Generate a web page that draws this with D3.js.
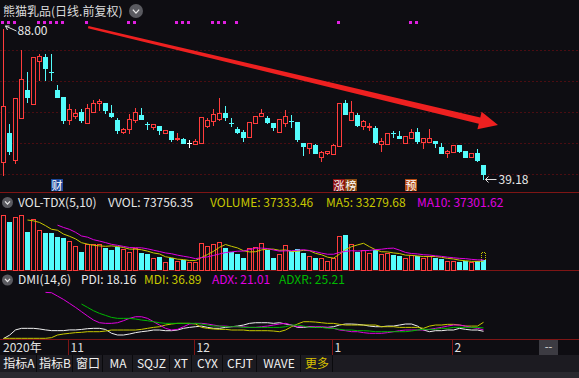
<!DOCTYPE html>
<html>
<head>
<meta charset="utf-8">
<title>熊猫乳品</title>
<script src="https://cdn.jsdelivr.net/npm/d3@7"></script>
<style>
  html, body { margin: 0; padding: 0; background: #0e0d12; overflow: hidden; }
  svg { display: block; }
  text { font-family: "Noto Sans CJK SC", "Noto Sans", sans-serif; }
  .crisp { shape-rendering: crispEdges; }
</style>
</head>
<body>
<svg width="579" height="378"></svg>
<script>
// daily bars, 2020-10 .. 2021-02
var open  = [44.68,54.05,45.32,58.90,67.96,63.43,77.33,78.62,73.80,67.96,
             65.69,58.26,59.55,60.84,57.29,60.84,63.75,63.75,60.52,58.26,
             54.38,55.35,58.26,59.87,57.00,55.99,56.32,54.05,54.70,52.11,
             52.11,50.82,50.50,50.82,56.32,57.93,58.58,60.52,57.32,55.35,
             54.38,52.76,57.29,59.55,58.90,57.29,54.38,57.29,57.96,57.61,
             50.82,49.20,50.17,46.29,47.59,47.26,49.85,63.75,58.26,59.87,
             56.32,55.99,55.67,50.50,50.50,54.08,53.08,50.82,52.44,54.38,
             51.14,51.14,51.47,49.53,47.59,47.91,50.17,48.23,46.29,47.59,
             43.71];
var high  = [88.00,57.29,65.37,81.21,74.10,78.62,79.92,79.92,79.92,69.90,
             66.02,63.75,62.14,62.14,63.75,65.05,65.37,63.75,63.43,59.23,
             55.99,60.52,62.46,62.46,57.93,57.29,56.32,55.02,55.02,54.38,
             52.76,52.11,52.44,59.55,59.23,62.14,65.69,63.11,59.23,56.32,
             55.35,57.93,59.55,62.14,59.87,57.29,58.58,61.81,60.20,57.93,
             51.14,51.14,50.82,48.56,48.56,50.82,63.75,65.05,64.72,60.84,
             58.58,57.61,56.64,52.76,54.05,55.02,55.02,53.08,55.67,55.99,
             52.44,55.67,51.47,51.14,48.88,50.17,50.50,48.56,47.59,49.20,
             43.71];
var low   = [40.47,47.26,44.35,58.90,64.08,63.43,71.19,71.19,71.19,65.69,
             57.29,56.96,58.90,57.61,57.29,60.84,61.49,60.52,59.23,54.05,
             54.05,54.05,57.61,58.58,55.35,55.35,53.73,54.05,51.47,51.79,
             50.82,49.53,50.50,50.82,55.99,56.64,58.26,58.26,56.32,54.05,
             51.47,52.76,57.29,59.55,57.29,55.02,54.38,56.32,55.99,51.47,
             46.94,47.59,47.59,45.00,47.26,47.26,49.85,60.20,58.26,56.32,
             55.35,55.02,50.82,48.23,50.50,52.76,52.44,50.82,52.44,50.82,
             49.20,51.14,49.53,47.59,46.29,47.91,47.91,46.29,46.29,45.00,
             39.18];
var close = [62.78,48.23,65.37,71.51,65.69,78.62,78.95,75.07,73.77,65.69,
             58.26,61.81,60.52,58.26,62.14,63.75,64.40,61.49,59.55,55.02,
             55.35,58.58,60.84,58.58,56.96,56.96,55.02,55.02,52.11,52.44,
             50.82,50.82,51.47,59.23,58.26,60.20,60.52,59.23,57.29,54.38,
             52.76,57.61,59.55,60.52,57.61,55.99,58.58,59.55,57.93,52.11,
             49.85,50.82,47.59,47.91,48.23,50.17,63.75,60.20,60.84,56.64,
             57.93,56.32,51.14,51.47,54.05,54.05,52.44,53.08,54.38,51.47,
             52.44,52.44,50.82,47.59,48.23,50.17,48.23,46.29,47.59,45.32,
             40.80];
var volume = [205300,179200,197800,205300,141900,190400,149300,138100,138100,123200,
              119500,108300,89600,67200,97100,97100,97100,82100,74700,85900,
              78400,67200,82100,63500,59700,44800,48500,29900,44800,33600,
              37300,29900,29900,100800,89600,97100,104500,82100,67200,59700,
              44800,82100,85900,100800,74700,44800,59700,93300,70900,78400,
              63500,52300,44800,44800,33600,44800,126900,130700,97100,67200,
              74700,63500,74700,59700,63500,56000,52300,44800,56000,52300,
              44800,52300,44800,41100,33600,33600,29900,33600,29900,33600,
              37333.46];
var volumeForecast = 67000;   // dotted outline on the last (unfinished) day

// DMI(14,6)
var pdi  = [3,10,21,24.3,24.3,24.3,23,21,19.5,19.5,
            19.5,21,21,22,23.6,24.3,24.3,22,14,10.4,
            10.4,12.5,15.3,17.3,18.7,20.8,20.8,19.4,19.4,20.8,
            24.3,26.3,27.7,29,26.3,24.3,24.3,26.3,27.7,29,
            31.2,34.7,36,36,36,34.7,36,33.3,31.2,26.3,
            26.3,27.7,26.3,26.3,26.3,27.7,31.2,33.3,33.3,32.6,
            31.2,29,27.7,27.7,29,29,31.2,33.3,33.3,29,
            20.8,17.3,19.4,19.4,20.8,20.8,24.3,22.2,20.8,20.8,
            18.16];
var mdi  = [3.5,3.5,3.5,3.5,3.5,3.5,3.5,3.5,4.9,10.4,
            12.5,13.9,15.3,16,17.3,17.3,17.3,18.7,20.8,20.8,
            20.8,20.8,20.8,22.2,24.3,26.3,27.7,31.2,33.3,34.7,
            34.7,34.7,33.3,26.3,24.3,23,22.2,22.2,20.8,20.8,
            20.8,19.4,19.4,19.4,19.4,18.7,17.3,20.8,27.7,33.3,
            38.1,38.1,37.4,36,34.7,34.7,32.6,31.2,31.2,31.2,
            31.2,31.2,31.2,27.7,27.7,27.7,26.3,26.3,26.3,26.3,
            24.3,29,31.2,31.2,32.6,32.6,31.2,29,29,29,
            36.89];
var adx  = [null,null,null,null,null,null,null,99.2,98.5,91.5,
            84.5,76.3,68,59,50,41.6,36,34.7,34.7,36,
            40.2,45.1,48.5,48.5,45.1,38.1,31.2,24.3,20.8,22.2,
            27.7,33.3,34.7,34.7,33.3,31.2,29,29,27.7,27.7,
            27.7,26.3,26.3,27.7,29,31.2,33.3,34.7,31.2,27.7,
            27.7,27.7,27.7,27.7,26.3,24.3,20.8,19.4,17.3,17.3,
            15.3,13.9,13.9,13.9,15.3,17.3,19.4,20.8,20.8,20.8,
            20.8,22.2,24.3,26.3,29,31.2,31.2,29,26.3,24.3,
            21.01];
var adxr = [null,null,null,null,null,null,null,null,null,null,
            null,null,null,74.9,68,61,55.5,51.3,47.1,45.1,
            45.1,45.1,43.7,41.6,40.2,38.1,36,34.7,34.7,34.7,
            34.7,34.7,34.7,33.3,31.2,29,29,27.7,27.7,27.7,
            26.3,26.3,26.3,26.3,26.3,26.3,26.3,27.7,31.2,31.2,
            29,26.3,26.3,26.3,24.3,24.3,22.2,20.8,20.8,19.4,
            19.4,18.7,17.3,17.3,17.3,17.3,17.3,17.3,18.7,20.8,
            22.2,22.2,22.2,24.3,24.3,26.3,26.3,26.3,26.3,26.3,
            25.21];

var monthIndex  = [11, 32, 55, 75];
var monthLabels = ["11", "12", "1", "2"];
var yearLabel = "2020年";
var infoDots = [0,1,2,6,7,8,9,10,14,21,22,29,30,31,35,36,37,39,56,68,69];
var eventMarks = [
  {i: 9,  chars: ["财"], fills: ["#1f4a9c"]},
  {i: 56, chars: ["涨", "榜"], fills: ["#8c1010", "#8a4a12"]},
  {i: 68, chars: ["预"], fills: ["#b24a12"]}
];
var priceGrid = [40.8, 50.8, 60.8, 70.9, 81.0];
var toolbarLabels = ["指标A", "指标B", "窗口", "MA", "SQJZ", "XT", "CYX", "CFJT", "WAVE", "更多"];
var toolbarEdges  = [0, 36, 72, 102, 132, 169, 191, 222, 256, 300, 332];

var bg = "#0e0d12", up = "#ff3c3c", down = "#54fcfc", gridRed = "#4a0d12", sepRed = "#7e1515";
var yellow = "#c8c800", magenta = "#e000e0", green = "#00b800";

var svg = d3.select("svg");
svg.append("rect").attr("width", 579).attr("height", 378).attr("fill", bg);

var n = close.length;
var x  = d3.scaleLinear().domain([0, n - 1]).range([3, 3 + 6 * (n - 1)]);
var y  = d3.scaleLinear().domain([39.18, 88]).range([178.5, 28]);
var yv = d3.scaleLinear().domain([0, 212000]).range([270, 213]);
var yd = d3.scaleLinear().domain([0, 100]).range([340, 292]);

function cx(i) { return Math.round(x(i)) + 0.5; }
function py(v) { return Math.round(y(v)) + 0.5; }

var bars = d3.range(n).map(function(i) {
  return {i: i, o: open[i], h: high[i], l: low[i], c: close[i], v: volume[i]};
});
function candleColor(d) { return d.c > d.o ? up : (d.c < d.o ? down : "#ffffff"); }

// grid and panel separators
svg.append("g").attr("class", "crisp").selectAll("line").data(priceGrid).enter().append("line")
    .attr("x1", 0).attr("x2", 579)
    .attr("y1", function(d) { return py(d); }).attr("y2", function(d) { return py(d); })
    .attr("stroke", gridRed).attr("stroke-dasharray", "2,2");

svg.append("g").attr("class", "crisp").selectAll("line").data([192.5, 270.5, 339.5]).enter().append("line")
    .attr("x1", 0).attr("x2", 579).attr("y1", function(d) { return d; }).attr("y2", function(d) { return d; })
    .attr("stroke", sepRed);

// title
svg.append("text").attr("x", 3).attr("y", 16).attr("fill", "#dcdcdc").style("font-size", "12px")
    .text("熊猫乳品(日线.前复权)");
function chevron(g, cxp, cyp, r) {
  g.append("circle").attr("cx", cxp).attr("cy", cyp).attr("r", r).attr("fill", "#5a5a60");
  g.append("path").attr("d", "M" + (cxp - r * 0.45) + "," + (cyp - r * 0.2) + "L" + cxp + "," + (cyp + r * 0.3) + "L" + (cxp + r * 0.45) + "," + (cyp - r * 0.2))
      .attr("fill", "none").attr("stroke", "#e8e8e8").attr("stroke-width", 1.3);
}
chevron(svg, 136, 11, 7);

// info dots row
svg.append("g").attr("class", "crisp").selectAll("rect").data(infoDots).enter().append("rect")
    .attr("x", function(d) { return Math.round(x(d)) - 2; }).attr("y", 21)
    .attr("width", 3).attr("height", 3).attr("fill", "#e020e0");

// candles
var cg = svg.append("g").attr("class", "crisp");
var candle = cg.selectAll("g").data(bars).enter().append("g");
candle.append("line")
    .attr("x1", function(d) { return cx(d.i); }).attr("x2", function(d) { return cx(d.i); })
    .attr("y1", function(d) { return py(d.h); }).attr("y2", function(d) { return py(d.l); })
    .attr("stroke", candleColor);
candle.append("rect")
    .attr("x", function(d) { return d.c > d.o ? cx(d.i) - 2 : cx(d.i) - 2.5; })
    .attr("y", function(d) {
      var t = py(Math.max(d.o, d.c));
      return d.c > d.o ? t : t - 0.5;
    })
    .attr("width", function(d) { return d.c > d.o ? 4 : 5; })
    .attr("height", function(d) {
      var h = py(Math.min(d.o, d.c)) - py(Math.max(d.o, d.c));
      return d.c > d.o ? h : h + 1;
    })
    .attr("fill", function(d) { return d.c > d.o ? bg : candleColor(d); })
    .attr("stroke", function(d) { return d.c > d.o ? up : "none"; });

// max / min markers
var hi = bars[d3.maxIndex(bars, function(d) { return d.h; })];
var lo = bars[d3.minIndex(bars, function(d) { return d.l; })];
var hx = cx(hi.i), hy = y(hi.h);
svg.append("path").attr("d", "M" + (hx + 13) + "," + (hy + 3) + "L" + (hx + 2) + "," + (hy - 2) + "M" + (hx + 2) + "," + (hy - 2) + "l4,0M" + (hx + 2) + "," + (hy - 2) + "l2,4")
    .attr("stroke", "#e0e0e0").attr("fill", "none");
svg.append("text").attr("x", hx + 14).attr("y", hy + 7).attr("fill", "#e8e8e8").style("font-size", "12px")
    .text(hi.h.toFixed(2));
var lx = cx(lo.i), ly = py(lo.l);
svg.append("path").attr("d", "M" + (lx + 2) + "," + ly + "L" + (lx + 13) + "," + ly + "M" + (lx + 2) + "," + ly + "l3,-3M" + (lx + 2) + "," + ly + "l3,3")
    .attr("stroke", "#e0e0e0").attr("fill", "none");
svg.append("text").attr("x", lx + 15).attr("y", ly + 4.5).attr("fill", "#e8e8e8").style("font-size", "12px")
    .text(lo.l.toFixed(2));

// event marks under candles
eventMarks.forEach(function(e) {
  e.chars.forEach(function(ch, k) {
    var x0 = Math.round(x(e.i)) - 6 + k * 12;
    svg.append("rect").attr("x", x0).attr("y", 179).attr("width", 12).attr("height", 12).attr("fill", e.fills[k]);
    svg.append("text").attr("x", x0 + 6).attr("y", 189.5).attr("text-anchor", "middle")
        .attr("fill", "#ffffff").style("font-size", "11px").text(ch);
  });
});

// trend arrow annotation
(function() {
  var p0 = [x(14.2), y(88.3)], p1 = [x(82.5), y(56.54)];
  var dx = p1[0] - p0[0], dy = p1[1] - p0[1], L = Math.sqrt(dx * dx + dy * dy);
  var ux = dx / L, uy = dy / L, nx = -uy, ny = ux;
  var headLen = 19, headW = 9, w0 = 1.2, w1 = 3.2;
  var b = [p1[0] - ux * headLen, p1[1] - uy * headLen];
  var pts = [
    [p0[0] + nx * w0, p0[1] + ny * w0],
    [b[0] + nx * w1, b[1] + ny * w1],
    [b[0] + nx * headW, b[1] + ny * headW],
    p1,
    [b[0] - nx * headW, b[1] - ny * headW],
    [b[0] - nx * w1, b[1] - ny * w1],
    [p0[0] - nx * w0, p0[1] - ny * w0]
  ];
  svg.append("path").attr("d", d3.line()(pts) + "Z").attr("fill", "#ee2020");
})();

// volume panel
chevron(svg, 7.5, 202.5, 5.5);
var volHead = [
  {x: 18,  t: "VOL-TDX(5,10)", c: "#e8e8e8"},
  {x: 108, t: "VVOL: 73756.35", c: "#e8e8e8"},
  {x: 210, t: "VOLUME: " + volume[n - 1].toFixed(2), c: yellow},
  {x: 326, t: "MA5: 33279.68", c: yellow},
  {x: 417, t: "MA10: 37301.62", c: magenta}
];
svg.append("g").selectAll("text").data(volHead).enter().append("text")
    .attr("x", function(d) { return d.x; }).attr("y", 206.5)
    .attr("fill", function(d) { return d.c; }).style("font-size", "12px")
    .text(function(d) { return d.t; });

var vg = svg.append("g").attr("class", "crisp");
vg.selectAll("rect").data(bars).enter().append("rect")
    .attr("x", function(d) { return d.c >= d.o ? cx(d.i) - 2 : cx(d.i) - 2.5; })
    .attr("y", function(d) { return d.c >= d.o ? Math.round(yv(d.v)) + 0.5 : Math.round(yv(d.v)); })
    .attr("width", function(d) { return d.c >= d.o ? 4 : 5; })
    .attr("height", function(d) { return 270 - Math.round(yv(d.v)); })
    .attr("fill", function(d) { return d.c >= d.o ? bg : down; })
    .attr("stroke", function(d) { return d.c >= d.o ? up : "none"; });
// forecast outline on last day
vg.append("path")
    .attr("d", "M" + (cx(n - 1) - 2) + "," + Math.round(yv(volume[n - 1])) + "V" + (Math.round(yv(volumeForecast)) + 0.5) +
               "H" + (cx(n - 1) + 2) + "V" + Math.round(yv(volume[n - 1])))
    .attr("fill", "none").attr("stroke", yellow).attr("stroke-dasharray", "1,1");

function movingAvg(arr, k) {
  return arr.map(function(v, i) { return i < k - 1 ? null : d3.mean(arr.slice(i - k + 1, i + 1)); });
}
var ma5 = movingAvg(volume, 5), ma10 = movingAvg(volume, 10);
var vline = d3.line().defined(function(d) { return d != null; })
    .x(function(d, i) { return cx(i); }).y(function(d) { return yv(d); });
svg.append("path").attr("d", vline(ma5)).attr("fill", "none").attr("stroke", yellow);
svg.append("path").attr("d", vline(ma10)).attr("fill", "none").attr("stroke", magenta);

// DMI panel
chevron(svg, 7.5, 280, 5.5);
var dmiHead = [
  {x: 18,  t: "DMI(14,6)", c: "#e8e8e8"},
  {x: 81,  t: "PDI: " + pdi[n - 1].toFixed(2), c: "#e8e8e8"},
  {x: 144, t: "MDI: " + mdi[n - 1].toFixed(2), c: yellow},
  {x: 212, t: "ADX: " + adx[n - 1].toFixed(2), c: magenta},
  {x: 279, t: "ADXR: " + adxr[n - 1].toFixed(2), c: green}
];
svg.append("g").selectAll("text").data(dmiHead).enter().append("text")
    .attr("x", function(d) { return d.x; }).attr("y", 284)
    .attr("fill", function(d) { return d.c; }).style("font-size", "12px")
    .text(function(d) { return d.t; });

var dline = d3.line().defined(function(d) { return d != null; })
    .x(function(d, i) { return cx(i); }).y(function(d) { return yd(d); });
[[pdi, "#f0f0f0"], [mdi, yellow], [adx, magenta], [adxr, green]].forEach(function(s) {
  svg.append("path").attr("d", dline(s[0])).attr("fill", "none").attr("stroke", s[1]);
});

// x axis
svg.append("text").attr("x", 3).attr("y", 352).attr("fill", "#e0e0e0").style("font-size", "12px").text(yearLabel);
var mt = svg.append("g");
monthIndex.forEach(function(mi, k) {
  var xx = Math.round(x(mi)) - 0.5;
  mt.append("line").attr("class", "crisp").attr("x1", xx).attr("x2", xx).attr("y1", 339).attr("y2", 355).attr("stroke", sepRed);
  mt.append("text").attr("x", xx + 2).attr("y", 352).attr("fill", "#e0e0e0").style("font-size", "12px").text(monthLabels[k]);
});
svg.append("rect").attr("x", 539).attr("y", 340).attr("width", 19).attr("height", 15).attr("fill", "#3c3b42");
svg.append("text").attr("x", 548.5).attr("y", 351).attr("text-anchor", "middle").attr("fill", "#e0e0e0")
    .style("font-size", "11px").text("--");

// bottom toolbar
svg.append("rect").attr("x", 0).attr("y", 355).attr("width", 579).attr("height", 17).attr("fill", "#1c1b21");
svg.append("rect").attr("x", 0).attr("y", 372).attr("width", 579).attr("height", 6).attr("fill", "#2a292f");
toolbarLabels.forEach(function(t, k) {
  var a = toolbarEdges[k], b = toolbarEdges[k + 1];
  svg.append("line").attr("class", "crisp").attr("x1", b + 0.5).attr("x2", b + 0.5).attr("y1", 355).attr("y2", 372).attr("stroke", "#0a0a0d");
  svg.append("text").attr("x", (a + b) / 2 + 1).attr("y", 368).attr("text-anchor", "middle")
      .attr("fill", t === "更多" ? "#d8c000" : "#f0f0f0").style("font-size", "12px").text(t);
});
</script>
</body>
</html>
